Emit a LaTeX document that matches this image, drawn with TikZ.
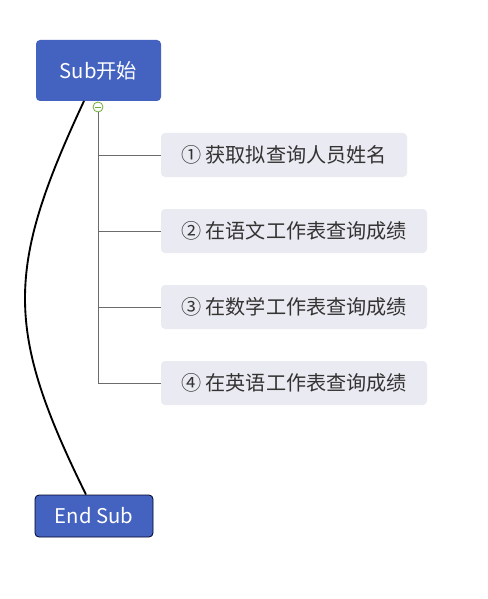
\documentclass[tikz,border=0pt]{standalone}
\usepackage{fontspec}
\setmainfont{Noto Sans CJK SC}
\definecolor{topicblue}{HTML}{4462BF}
\definecolor{itemgrey}{HTML}{EAEAF2}
\definecolor{linegrey}{HTML}{6B6B6B}
\definecolor{togglegreen}{HTML}{6BAF35}
\tikzset{
  topic/.style={fill=topicblue, text=white, rounded corners=3pt,
    font=\fontsize{15.2pt}{18pt}\selectfont, inner sep=0pt},
  item/.style={fill=itemgrey, text=black!80, rounded corners=3pt,
    font=\fontsize{15.1pt}{18pt}\selectfont, inner sep=0pt,
    minimum height=33pt},
  branch/.style={draw=linegrey, line width=0.7pt},
}
\begin{document}
\begin{tikzpicture}[x=0.75pt,y=-0.75pt]
  \useasboundingbox (0,0) rectangle (488,599);
  \node[topic, minimum width=93.75pt, minimum height=45.75pt] (start) at (98.5,70.5) {Sub开始};
  \node[topic, draw=black!85!blue, line width=0.6pt, minimum width=88.5pt, minimum height=31.5pt] (end) at (94,516) {End Sub};
  \node[item, minimum width=184.5pt] (i1) at (284,155) {① 获取拟查询人员姓名};
  \node[item, minimum width=199.5pt] (i2) at (294,231) {② 在语文工作表查询成绩};
  \node[item, minimum width=199.5pt] (i3) at (294,307) {③ 在数学工作表查询成绩};
  \node[item, minimum width=199.5pt] (i4) at (294,383) {④ 在英语工作表查询成绩};
  % collapse toggle
  \node[circle, draw=togglegreen, fill=white, line width=0.6pt, minimum size=7.5pt, inner sep=0pt] (toggle) at (98,107) {};
  \draw[togglegreen, line width=0.6pt] ([xshift=-2.2pt]toggle.center) -- ([xshift=2.2pt]toggle.center);
  % branches
  \draw[branch] (toggle.south) |- (i4.west);
  \foreach \i in {1,2,3}
    \draw[branch] (toggle.south |- i\i.west) -- (i\i.west);
  % call link
  \draw[line width=1.4pt] (84,101) .. controls (5,270) and (5,330) .. (end.north -| 86,0);
\end{tikzpicture}
\end{document}
